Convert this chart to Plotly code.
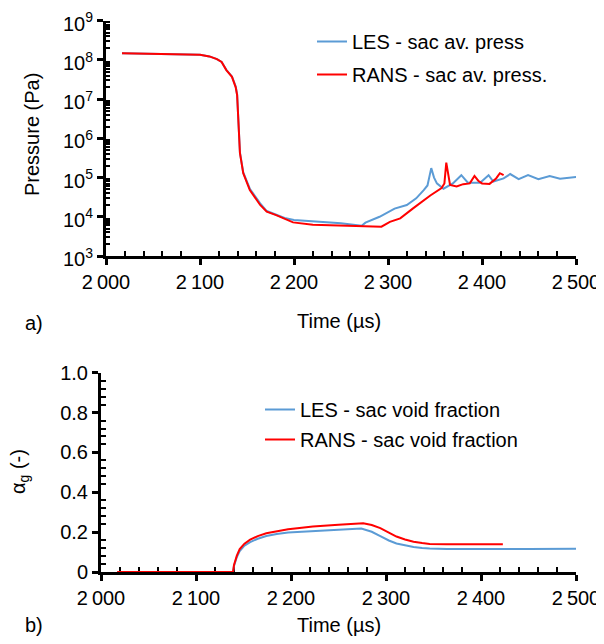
import plotly.graph_objects as go

# --- pressure (top panel) ---
t_les_p = [2017, 2050, 2080, 2100, 2110, 2118, 2123, 2128, 2134, 2138, 2139.5, 2141, 2142.5,
           2146, 2153, 2160, 2164, 2171, 2181, 2190, 2200, 2220, 2250, 2272, 2276, 2291,
           2307, 2320, 2330, 2338, 2342, 2346, 2349, 2352, 2359, 2369, 2378, 2385, 2398,
           2407, 2412, 2423, 2430, 2439, 2449, 2460, 2472, 2483, 2495, 2502]
p_les = [1.48e8, 1.45e8, 1.41e8, 1.35e8, 1.23e8, 1.05e8, 8.9e7, 5.6e7, 3.8e7, 2.1e7, 1.3e7,
         1.4e6, 4.4e5, 1.35e5, 5.2e4, 3.0e4, 2.2e4, 1.4e4, 1.15e4, 9.3e3, 8.3e3, 7.6e3,
         6.8e3, 5.9e3, 7.1e3, 1.0e4, 1.62e4, 2.0e4, 2.95e4, 4.8e4, 6.3e4, 1.74e5, 1.0e5,
         7.1e4, 5.2e4, 7.1e4, 1.15e5, 7.4e4, 7.4e4, 1.15e5, 7.9e4, 9.5e4, 1.23e5, 9.1e4,
         1.15e5, 9.1e4, 1.1e5, 9.3e4, 1.02e5, 1.05e5]

t_rans_p = [2017, 2050, 2080, 2100, 2110, 2118, 2123, 2128, 2134, 2138, 2139.5, 2141, 2142.5,
            2146, 2153, 2164, 2171, 2181, 2190, 2199, 2220, 2250, 2274, 2293, 2302, 2313,
            2327, 2345, 2357, 2360, 2362, 2364, 2366, 2373, 2380, 2387, 2392, 2396, 2400,
            2408, 2415, 2419, 2423]
p_rans = [1.48e8, 1.45e8, 1.41e8, 1.35e8, 1.23e8, 1.05e8, 8.9e7, 5.5e7, 3.7e7, 2.0e7, 1.26e7,
          1.35e6, 4.2e5, 1.29e5, 4.8e4, 2.0e4, 1.35e4, 1.1e4, 9.1e3, 7.2e3, 6.3e3, 5.9e3,
          5.6e3, 5.6e3, 7.4e3, 9.1e3, 1.66e4, 3.5e4, 5.4e4, 7.1e4, 2.4e5, 1.26e5, 6.5e4,
          5.9e4, 6.8e4, 7.1e4, 1.1e5, 8.3e4, 7.1e4, 6.9e4, 9.5e4, 1.29e5, 1.15e5]

# --- void fraction (bottom panel) ---
t_les_a = [2017, 2139, 2140, 2141, 2143, 2146, 2151, 2157, 2165, 2174, 2185, 2197, 2209, 2223,
           2250, 2274, 2285, 2294, 2303, 2311, 2320, 2329, 2338, 2346, 2364, 2400, 2450, 2502]
a_les = [0, 0, 0.03, 0.05, 0.075, 0.105, 0.132, 0.15, 0.167, 0.181, 0.191, 0.198, 0.202,
         0.206, 0.212, 0.218, 0.202, 0.18, 0.158, 0.143, 0.133, 0.126, 0.121, 0.118, 0.116,
         0.115, 0.115, 0.117]

t_rans_a = [2017, 2139, 2140, 2141, 2143, 2146, 2151, 2157, 2165, 2174, 2185, 2197, 2209, 2223,
            2250, 2276, 2285, 2294, 2303, 2311, 2320, 2329, 2338, 2346, 2364, 2423]
a_rans = [0, 0, 0.035, 0.055, 0.082, 0.115, 0.142, 0.162, 0.18, 0.194, 0.205, 0.214, 0.221,
          0.228, 0.237, 0.244, 0.236, 0.22, 0.198, 0.178, 0.163, 0.152, 0.145, 0.141, 0.139,
          0.139]

# tick values / labels
x_ticks = [2000, 2100, 2200, 2300, 2400, 2500]
x_ticktext = ['2\u2009000', '2\u2009100', '2\u2009200', '2\u2009300', '2\u2009400', '2\u2009500']
p_ticks = [1e3, 1e4, 1e5, 1e6, 1e7, 1e8, 1e9]
p_ticktext = ['10<sup>3</sup>', '10<sup>4</sup>', '10<sup>5</sup>', '10<sup>6</sup>',
              '10<sup>7</sup>', '10<sup>8</sup>', '10<sup>9</sup>']
a_ticks = [0, 0.2, 0.4, 0.6, 0.8, 1.0]
a_ticktext = ['0', '0.2', '0.4', '0.6', '0.8', '1.0']

BLUE = '#5B9BD5'
RED = '#FF0000'
FONT = 'Liberation Sans, Arial, sans-serif'
OFF = 8  # page body margin shifts the figure by 8px
W, H = 604 - OFF, 644 - 2 * OFF


def px(x):
    return (x - OFF) / W


def py(y):
    return 1 - (y - OFF) / H


x_minor = [v for v in range(2000, 2501, 20) if v % 100]
p_minor = [m * 10 ** e for e in range(3, 9) for m in range(2, 10)]
a_minor = [round(i * 0.04, 2) for i in range(26) if i % 5]

fig = go.Figure()
fig.add_trace(go.Scatter(x=t_les_p, y=p_les, mode='lines', name='LES - sac av. press',
                         line=dict(color=BLUE, width=2), xaxis='x', yaxis='y',
                         legendgroup='a'))
fig.add_trace(go.Scatter(x=t_rans_p, y=p_rans, mode='lines', name='RANS - sac av. press.',
                         line=dict(color=RED, width=2), xaxis='x', yaxis='y',
                         legendgroup='b'))
fig.add_trace(go.Scatter(x=t_les_a, y=a_les, mode='lines', name='LES - sac void fraction',
                         line=dict(color=BLUE, width=2), xaxis='x2', yaxis='y2',
                         legend='legend2', legendgroup='c'))
fig.add_trace(go.Scatter(x=t_rans_a, y=a_rans, mode='lines', name='RANS - sac void fraction',
                         line=dict(color=RED, width=2), xaxis='x2', yaxis='y2',
                         legend='legend2', legendgroup='d'))

base = dict(showline=True, linecolor='black', linewidth=3, ticks='outside', ticklen=6,
            tickwidth=2.5, tickcolor='black', showgrid=False, zeroline=False,
            tickfont=dict(size=20, color='black', family=FONT), tickmode='array',
            layer='below traces', automargin=False, ticklabeloverflow='allow')
inner = dict(showline=False, showgrid=False, zeroline=False, ticks='inside', ticklen=6,
             tickwidth=2.5, tickcolor='black', showticklabels=False, tickmode='array',
             automargin=False)
minor_style = dict(ticks='inside', ticklen=5, tickwidth=2, tickcolor='black', tickmode='array',
                   showgrid=False)

top_x = [px(106), px(576)]
top_y = [py(256), py(20.7)]
bot_x = [px(101), px(576)]
bot_y = [py(572), py(372.7)]

fig.update_layout(
    width=W, height=H,
    margin=dict(l=0, r=0, t=0, b=0, autoexpand=False),
    paper_bgcolor='white', plot_bgcolor='white',
    font=dict(family=FONT, size=20, color='black'),
    xaxis=dict(base, domain=top_x, range=[2000, 2500], anchor='y', tickvals=x_ticks,
               ticktext=x_ticktext, minor=dict(minor_style, tickvals=x_minor)),
    yaxis=dict(base, domain=top_y, type='log', range=[3, 9], anchor='x', tickvals=p_ticks,
               ticktext=p_ticktext, ticklabelshift=3,
               minor=dict(minor_style, ticklen=4, tickvals=p_minor)),
    xaxis2=dict(base, domain=bot_x, range=[2000, 2500], anchor='y2', tickvals=x_ticks,
                ticktext=x_ticktext, minor=dict(minor_style, tickvals=x_minor)),
    yaxis2=dict(base, domain=bot_y, range=[0, 1], anchor='x2', tickvals=a_ticks,
                ticktext=a_ticktext, minor=dict(minor_style, tickvals=a_minor)),
    # overlay axes give the major ticks their inner half
    xaxis3=dict(inner, domain=top_x, range=[2000, 2500], overlaying='x', anchor='y',
                tickvals=x_ticks),
    yaxis3=dict(inner, domain=top_y, type='log', range=[3, 9], overlaying='y', anchor='x',
                tickvals=p_ticks),
    xaxis4=dict(inner, domain=bot_x, range=[2000, 2500], overlaying='x2', anchor='y2',
                tickvals=x_ticks),
    yaxis4=dict(inner, domain=bot_y, range=[0, 1], overlaying='y2', anchor='x2',
                tickvals=a_ticks),
    legend=dict(x=px(353 - 41), y=py(22), xanchor='left', yanchor='top',
                bgcolor='rgba(0,0,0,0)', font=dict(size=20), traceorder='grouped',
                tracegroupgap=4),
    legend2=dict(x=px(301 - 41), y=py(390), xanchor='left', yanchor='top',
                 bgcolor='rgba(0,0,0,0)', font=dict(size=20), traceorder='grouped',
                 tracegroupgap=1),
    showlegend=True,
)

notes = [
    dict(text='Pressure (Pa)', x=px(32), y=py(135), textangle=-90),
    dict(text='Time (µs)', x=px(339), y=py(321)),
    dict(text='a)', x=px(34), y=py(323)),
    dict(text='α<sub>g</sub> (-)', x=px(20), y=py(472), textangle=-90),
    dict(text='Time (µs)', x=px(339), y=py(625)),
    dict(text='b)', x=px(34), y=py(625)),
]
for n in notes:
    fig.add_annotation(xref='paper', yref='paper', showarrow=False,
                       xanchor='center', yanchor='middle', font=dict(size=20), **n)

fig.write_html('out.html')
